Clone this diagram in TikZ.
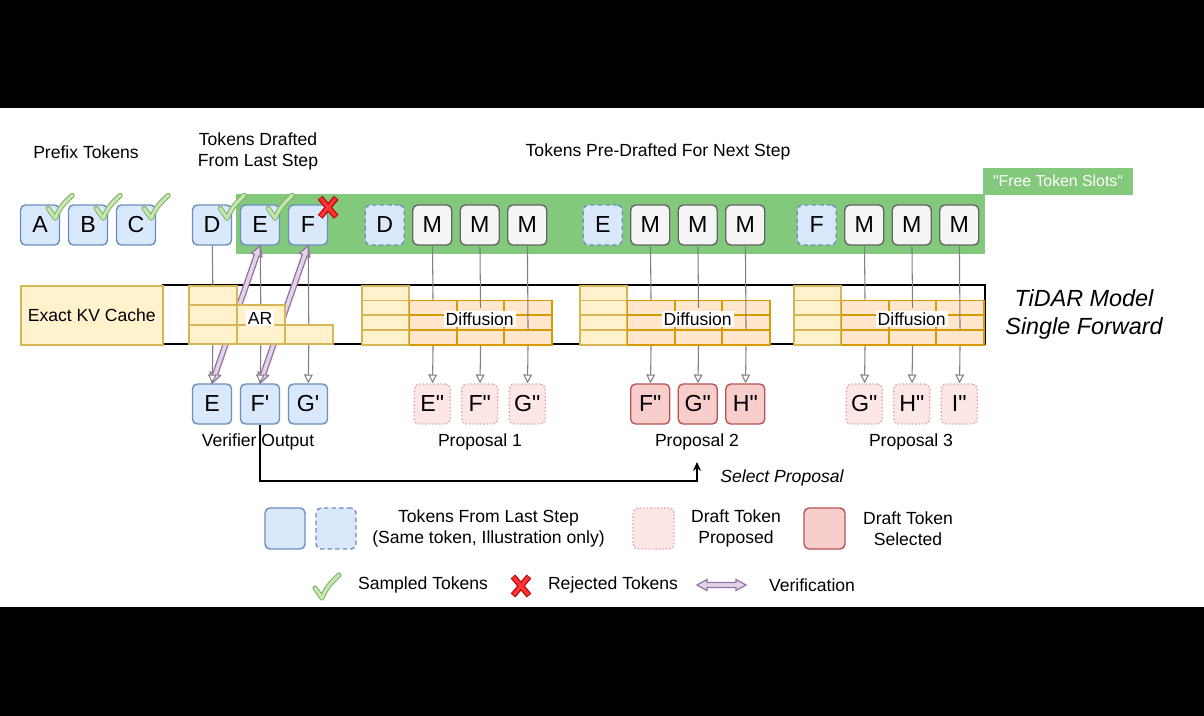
\documentclass[tikz,border=0pt]{standalone}
\usepackage{fontspec}
\newfontfamily\arialfont{Liberation Sans}
\usetikzlibrary{arrows.meta,calc}

\definecolor{tokfill}{HTML}{DAE8FC}
\definecolor{tokline}{HTML}{6C8EBF}
\definecolor{mfill}{HTML}{F5F5F5}
\definecolor{mline}{HTML}{666666}
\definecolor{propfill}{HTML}{FCE6E6}
\definecolor{propline}{HTML}{E6A0A0}
\definecolor{selfill}{HTML}{F8CECC}
\definecolor{selline}{HTML}{B85450}
\definecolor{slotgreen}{HTML}{82C97C}
\definecolor{kvfill}{HTML}{FFF2CC}
\definecolor{kvline}{HTML}{D6B656}
\definecolor{dffill}{HTML}{FFE6CC}
\definecolor{dfline}{HTML}{D79B00}
\definecolor{verifill}{HTML}{E1D5E7}
\definecolor{veriline}{HTML}{9673A6}
\definecolor{okdark}{HTML}{82B366}
\definecolor{oklight}{HTML}{C5E6B5}
\definecolor{rejdark}{HTML}{B20000}
\definecolor{rejlight}{HTML}{FF3333}
\definecolor{wire}{HTML}{7F7F7F}

\tikzset{
  tok/.style={draw=tokline, fill=tokfill, rounded corners=2.8pt, line width=0.8pt,
    minimum width=0.78cm, minimum height=0.8cm, inner sep=0pt,
    font=\arialfont\fontsize{13.2}{15}\selectfont},
  tokdash/.style={tok, dash pattern=on 2.5pt off 1.8pt},
  masktok/.style={tok, draw=mline, fill=mfill},
  proptok/.style={tok, draw=propline, fill=propfill, dash pattern=on 0.8pt off 1.2pt, minimum width=0.72cm},
  seltok/.style={tok, draw=selline, fill=selfill},
  kvcell/.style={draw=kvline, fill=kvfill, line width=0.9pt, minimum width=0.95cm,
    minimum height=0.295cm, inner sep=0pt, anchor=north west},
  dfcell/.style={kvcell, draw=dfline, fill=dffill},
  arcell/.style={kvcell, minimum width=0.96cm, minimum height=0.39cm},
  wire/.style={draw=wire, line width=0.6pt},
  wirearrow/.style={wire, -{Triangle[length=5pt, width=5pt, fill=white]}},
  lbl/.style={font=\arialfont\fontsize{10}{12}\selectfont, align=center, inner sep=0pt},
  blocklbl/.style={lbl, fill=white, inner sep=1pt},
  veri/.style={draw=veriline, fill=verifill, line width=0.7pt},
  okmark/.pic={
    \draw[okdark, line width=2.9pt, line cap=round, line join=round]
      (-12,4) -- (-5,14) .. controls (0,3) .. (12,-9);
    \draw[oklight, line width=1.7pt, line cap=round, line join=round]
      (-12,4) -- (-5,14) .. controls (0,3) .. (12,-9);
  },
  xmark/.pic={
    \draw[rejdark, line width=3.4pt] (-8,-9.5) -- (8,9.5) (8,-9.5) -- (-8,9.5);
    \draw[rejlight, line width=2.1pt] (-7.5,-8.9) -- (7.5,8.9) (7.5,-8.9) -- (-7.5,8.9);
  }
}

% hollow double-headed arrow between two points
\newcommand{\veriarrow}[2]{%
  \path (#1) coordinate (va) (#2) coordinate (vb);
  \path ($(va)!0.2cm!(vb)$) coordinate (vha) ($(vb)!0.2cm!(va)$) coordinate (vhb);
  \filldraw[veri] (va) -- ($(vha)!0.11cm!90:(vb)$) -- ($(vha)!0.05cm!90:(vb)$)
    -- ($(vhb)!0.05cm!-90:(va)$) -- ($(vhb)!0.11cm!-90:(va)$) -- (vb)
    -- ($(vhb)!0.11cm!90:(va)$) -- ($(vhb)!0.05cm!90:(va)$)
    -- ($(vha)!0.05cm!-90:(vb)$) -- ($(vha)!0.11cm!-90:(vb)$) -- cycle;
}

\begin{document}
\begin{tikzpicture}[x=0.02cm, y=-0.02cm]
    \useasboundingbox (0,0) rectangle (1204,716);
    \fill[black] (0,0) rectangle (1204,716);
    \fill[white] (0,108) rectangle (1204,607);

    % free token slots
    \fill[slotgreen] (236,194) rectangle (985,254);
    \fill[slotgreen] (983,168) rectangle (1133,195);
    \node[lbl, text=white, font=\arialfont\fontsize{9}{11}\selectfont] (slots) at (1058,181) {"Free Token Slots"};

    \node[lbl] (prefix) at (86,152) {Prefix Tokens};
    \node[lbl] (drafted) at (258,151.5) {Tokens Drafted\\From Last Step};
    \node[lbl] (predrafted) at (658,152) {Tokens Pre-Drafted For Next Step};

    % model frame
    \draw[line width=1.1pt] (162,285) -- (985,285) -- (985,344) -- (162,344);

    % tokens
    \foreach \n/\x in {A/40, B/88, C/136, D/212, E/260, F/308}
        \node[tok] (t\n) at (\x,225) {\n};
    \foreach \g/\x/\n in {1/361/D, 2/579/E, 3/793/F} {
        \node[tokdash] (s\g) at (\x+23.75,225) {\n};
        \foreach \j in {1,2,3}
            \node[masktok] (m\g\j) at (\x+23.75+47.5*\j,225) {M};
    }
    \node[tok] (vE) at (212,404) {E};
    \node[tok] (vF) at (260,404) {F'};
    \node[tok] (vG) at (308,404) {G'};
    \foreach \g/\x/\la/\lb/\lc/\st in {1/361/E/F/G/proptok, 2/579/F/G/H/seltok, 3/793/G/H/I/proptok} {
        \node[\st] (q\g1) at (\x+71.25,404) {\la"};
        \node[\st] (q\g2) at (\x+118.75,404) {\lb"};
        \node[\st] (q\g3) at (\x+166.25,404) {\lc"};
    }

    % verification
    \veriarrow{vE.north}{tE.south}
    \veriarrow{vF.north}{tF.south}

    % cache, AR and diffusion blocks
    \node[kvcell, lbl, minimum width=2.84cm, minimum height=1.18cm] (kv) at (20,285) {Exact KV Cache};
    \foreach \row in {0,1,2}
        \foreach \col in {0,...,\row}
            \node[arcell] (ar\row\col) at (188+48*\col,285+19.5*\row) {};
    \foreach \g/\x in {1/361, 2/579, 3/793} {
        \foreach \row in {0,...,3}
            \node[kvcell] (kv\g\row) at (\x,285+14.75*\row) {};
        \foreach \row in {1,2,3}
            \foreach \col in {1,2,3}
                \node[dfcell] (df\g\row\col) at (\x+47.5*\col,285+14.75*\row) {};
    }

    % wires
    \draw[wire] (tD) -- (ar00.north);
    \draw[wire] (tE) -- (ar11.north);
    \draw[wire] (tF) -- (ar22.north);
    \draw[wirearrow] (ar20.south) -- (vE);
    \draw[wirearrow] (ar21.south) -- (vF);
    \draw[wirearrow] (ar22.south) -- (vG);
    \foreach \g in {1,2,3} {
        \draw[wire] (m\g1) -- (df\g11.north);
        \draw[wire] (m\g2) -- (df\g12.center);
        \draw[wire] (m\g3) -- (df\g33.north);
        \foreach \j in {1,2,3}
            \draw[wirearrow] (df\g3\j.south) -- (q\g\j);
    }

    \node[blocklbl] (arlab) at (260,318) {AR};
    \foreach \g/\x in {1/361, 2/579, 3/793}
        \node[blocklbl] (dlab\g) at (\x+118.75,319) {Diffusion};

    % sampled / rejected
    \foreach \n in {A,B,C,D,E}
        \pic at (t\n.north east) {okmark};
    \pic at ([shift={(0,3)}]tF.north east) {xmark};

    \node[lbl, font=\arialfont\itshape\fontsize{13.3}{16.4}\selectfont] (tidar) at (1084,314.5) {TiDAR Model\\Single Forward};

    % outputs
    \node[lbl] (verout) at (258,442) {Verifier Output};
    \node[lbl] (prop1) at (480,442) {Proposal 1};
    \node[lbl] (prop2) at (697,442) {Proposal 2};
    \node[lbl] (prop3) at (911,442) {Proposal 3};
    \coordinate (selturn) at (697,481);
    \coordinate (seltip) at (697,462);
    \draw[line width=0.85pt, -{Stealth[length=5pt, width=4.5pt]}] (vF.south) |- (selturn) -- (seltip);
    \node[lbl, font=\arialfont\itshape\fontsize{10}{12}\selectfont] (select) at (782,478) {Select Proposal};

    % legend
    \node[tok, minimum width=0.8cm, minimum height=0.82cm] (lgtok) at (285,528.5) {};
    \node[tokdash, minimum width=0.8cm, minimum height=0.82cm] (lgdash) at (336,528.5) {};
    \node[lbl] (lgtoktxt) at (488.5,528.5) {Tokens From Last Step\\(Same token, Illustration only)};
    \node[proptok, minimum width=0.82cm, minimum height=0.82cm] (lgprop) at (653.5,528.5) {};
    \node[lbl] (lgproptxt) at (736,528.5) {Draft Token\\Proposed};
    \node[seltok, minimum width=0.82cm, minimum height=0.82cm] (lgsel) at (824.5,528.5) {};
    \node[lbl] (lgseltxt) at (908,528.5) {Draft Token\\Selected};
    \pic at (327,584) {okmark};
    \node[lbl] (lgok) at (423,585) {Sampled Tokens};
    \pic at (521,586) {xmark};
    \node[lbl] (lgrej) at (613,585) {Rejected Tokens};
    \coordinate (lgv1) at (697,585);
    \coordinate (lgv2) at (746,585);
    \veriarrow{lgv1}{lgv2}
    \node[lbl] (lgveri) at (812,585) {Verification};
\end{tikzpicture}
\end{document}
